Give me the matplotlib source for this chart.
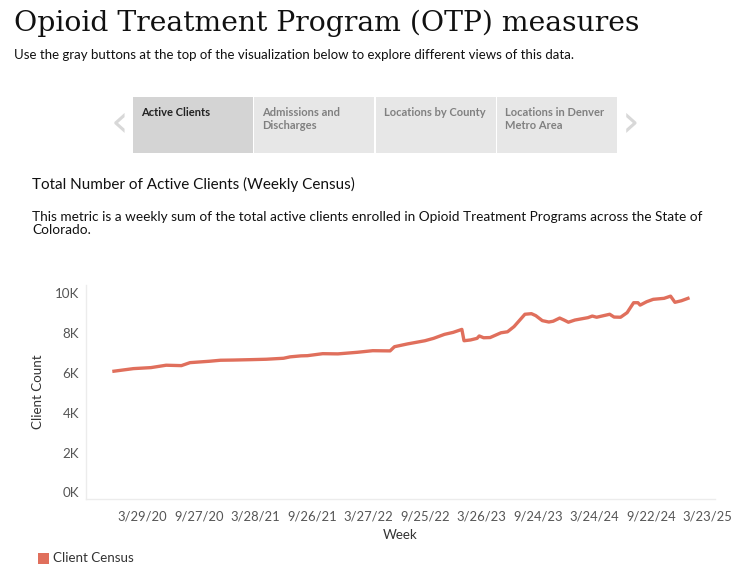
import matplotlib.pyplot as plt
import matplotlib.dates as mdates
from matplotlib.patches import Rectangle
import pandas as pd

# weekly census (K clients)
weeks = ['2019-12-29', '2020-03-01', '2020-04-26', '2020-06-14', '2020-08-02', '2020-08-30',
         '2020-11-01', '2020-12-06', '2021-01-17', '2021-03-14', '2021-05-02', '2021-06-27',
         '2021-07-18', '2021-08-22', '2021-09-12', '2021-10-31', '2021-12-19', '2022-02-20',
         '2022-04-10', '2022-06-05', '2022-06-19', '2022-07-31', '2022-09-25', '2022-10-23',
         '2022-11-27', '2022-12-25', '2023-01-22', '2023-01-29', '2023-02-19', '2023-03-12',
         '2023-03-19', '2023-04-02', '2023-04-23', '2023-05-28', '2023-06-18', '2023-07-09',
         '2023-08-13', '2023-09-03', '2023-09-17', '2023-10-08', '2023-10-29', '2023-11-12',
         '2023-12-03', '2023-12-17', '2023-12-31', '2024-01-21', '2024-03-03', '2024-03-17',
         '2024-03-31', '2024-05-12', '2024-05-26', '2024-06-16', '2024-07-07', '2024-07-28',
         '2024-08-11', '2024-08-18', '2024-09-08', '2024-09-29', '2024-11-03', '2024-11-24',
         '2024-12-08', '2024-12-29', '2025-01-19']
clients = [6.09, 6.22, 6.27, 6.39, 6.37, 6.52,
           6.59, 6.64, 6.65, 6.67, 6.69, 6.74,
           6.81, 6.86, 6.87, 6.97, 6.96, 7.04,
           7.12, 7.11, 7.32, 7.46, 7.62, 7.74,
           7.94, 8.04, 8.19, 7.62, 7.66, 7.74,
           7.86, 7.77, 7.78, 8.02, 8.07, 8.33,
           8.95, 8.98, 8.88, 8.63, 8.56, 8.60,
           8.76, 8.66, 8.55, 8.66, 8.78, 8.86,
           8.80, 8.95, 8.81, 8.80, 9.03, 9.53,
           9.53, 9.41, 9.58, 9.70, 9.75, 9.86,
           9.55, 9.63, 9.75]
clients = [v * 1000 for v in clients]

tick_dates = ['2020-03-29', '2020-09-27', '2021-03-28', '2021-09-26', '2022-03-27', '2022-09-25',
              '2023-03-26', '2023-09-24', '2024-03-24', '2024-09-22', '2025-03-23']
tabs = ['Active Clients', 'Admissions and\nDischarges', 'Locations by County',
        'Locations in Denver\nMetro Area']

W, H = 754, 583
LINE = '#e06f5c'
FONT = 'Lato'

fig = plt.figure(figsize=(W / 100, H / 100), dpi=100)


def fx(x):
    return x / W


def fy(y):
    return 1 - y / H


# --- header ---
fig.text(fx(14), fy(23), 'Opioid Treatment Program (OTP) measures', family='DejaVu Serif',
         fontsize=20.3, va='center', ha='left', color='#111111')
fig.text(fx(14), fy(55), 'Use the gray buttons at the top of the visualization below to explore different views of this data.',
         family=FONT, fontsize=9.5, va='center', ha='left', color='#111111')

# --- tab buttons ---
tab_x = [133, 254, 376, 497]
for i, (x0, label) in enumerate(zip(tab_x, tabs)):
    col = '#d4d4d4' if i == 0 else '#e7e7e7'
    fig.patches.append(Rectangle((fx(x0), fy(153)), 120 / W, 56 / H, transform=fig.transFigure,
                                 facecolor=col, edgecolor='none'))
    fig.text(fx(x0 + 8), fy(107), label, family=FONT, fontsize=8, va='top', ha='left',
             fontweight='bold', color='#222222' if i == 0 else '#808080', linespacing=1.2)
fig.text(fx(119), fy(124), '\u2039', family='DejaVu Sans', fontsize=32, va='center', ha='center',
         color='#d8d8d8')
fig.text(fx(631), fy(124), '\u203a', family='DejaVu Sans', fontsize=32, va='center', ha='center',
         color='#d8d8d8')

# --- sheet title and caption ---
fig.text(fx(32), fy(184), 'Total Number of Active Clients (Weekly Census)', family=FONT,
         fontsize=11, va='center', ha='left', color='#111111')
fig.text(fx(32), fy(211), 'This metric is a weekly sum of the total active clients enrolled in Opioid Treatment Programs across the State of\nColorado.',
         family=FONT, fontsize=9.85, va='top', ha='left', color='#111111', linespacing=1.15)

# --- chart ---
ax = fig.add_axes([fx(86), fy(499), (715 - 86) / W, (499 - 285) / H])
ax.plot(pd.to_datetime(weeks), clients, color=LINE, linewidth=2.4, solid_joinstyle='round')

ax.set_ylim(-330, 10420)
ax.set_yticks([0, 2000, 4000, 6000, 8000, 10000])
ax.set_yticklabels(['0K', '2K', '4K', '6K', '8K', '10K'])
ax.set_xlim(pd.Timestamp('2019-09-30'), pd.Timestamp('2025-04-16'))
ax.set_xticks(pd.to_datetime(tick_dates))
ax.xaxis.set_major_formatter(mdates.DateFormatter('%-m/%-d/%y'))

for s in ['top', 'right']:
    ax.spines[s].set_visible(False)
for s in ['left', 'bottom']:
    ax.spines[s].set_color('#ececec')
    ax.spines[s].set_linewidth(1)
ax.tick_params(axis='x', length=0, labelsize=9.4, colors='#555555', pad=8)
ax.tick_params(axis='y', length=0, labelsize=9.6, colors='#555555', pad=5)
for lab in ax.get_xticklabels() + ax.get_yticklabels():
    lab.set_family(FONT)
ax.set_ylabel('Client Count', family=FONT, fontsize=9.6, color='#333333', labelpad=8)
ax.set_xlabel('Week', family=FONT, fontsize=9.6, color='#333333', labelpad=5)

# --- legend ---
fig.patches.append(Rectangle((fx(38), fy(564)), 11 / W, 11 / H, transform=fig.transFigure,
                             facecolor=LINE, edgecolor='none'))
fig.text(fx(53), fy(558), 'Client Census', family=FONT, fontsize=9.6, va='center', ha='left',
         color='#333333')

fig.savefig('out.png', dpi=100)
